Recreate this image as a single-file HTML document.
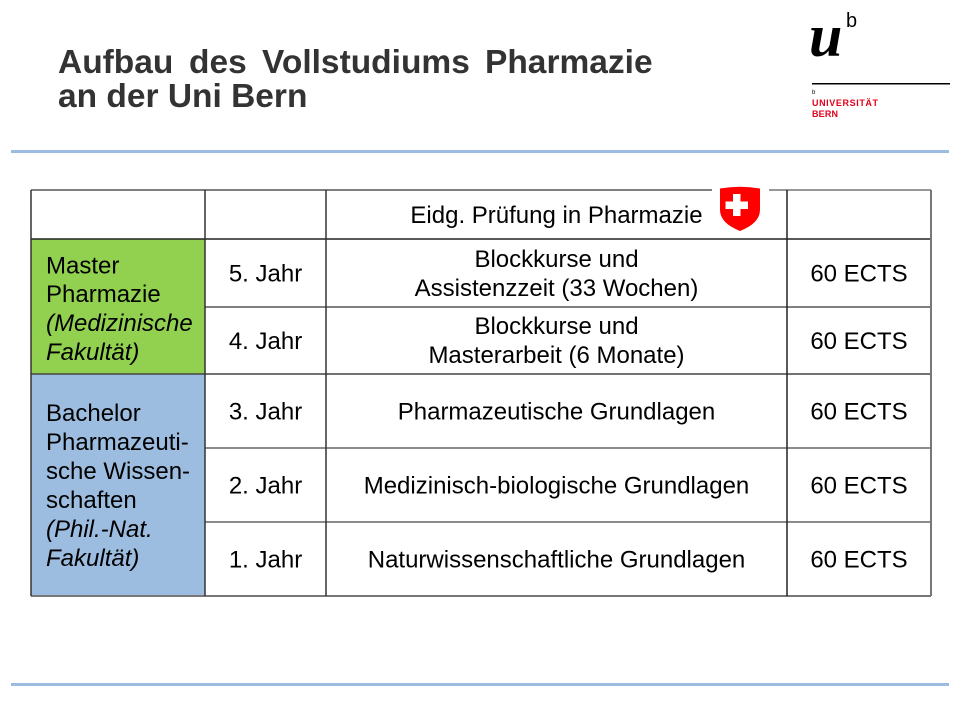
<!DOCTYPE html>
<html>
<head>
<meta charset="utf-8">
<style>
  html, body { margin: 0; padding: 0; background: #ffffff; }
  svg { display: block; }
</style>
</head>
<body>
<svg width="960" height="720" viewBox="0 0 960 720" xmlns="http://www.w3.org/2000/svg" font-family="'Liberation Sans', Arial, sans-serif">
  <rect x="0" y="0" width="960" height="720" fill="#ffffff"/>

  <!-- Title -->
  <g font-size="33.5" font-weight="bold" fill="#333333">
    <text x="58" y="73">Aufbau</text>
    <text x="189" y="73">des</text>
    <text x="262" y="73">Vollstudiums</text>
    <text x="485" y="73">Pharmazie</text>
    <text x="58" y="107">an der Uni Bern</text>
  </g>

  <!-- Logo -->
  <text x="809" y="56" style="font-family:'Liberation Serif', serif; font-size:60px; font-weight:bold; font-style:italic;" fill="#000">u</text>
  <text x="846" y="27" style="font-family:'Liberation Sans', sans-serif; font-size:20px;" fill="#000">b</text>
  <rect x="812" y="83" width="138" height="1.5" fill="#000"/>
  <text x="812" y="94" font-size="6" fill="#000">b</text>
  <text x="812" y="106" font-size="9" font-weight="bold" fill="#e2001a" textLength="66" lengthAdjust="spacing">UNIVERSITÄT</text>
  <text x="812" y="117" font-size="9" font-weight="bold" fill="#e2001a" textLength="26" lengthAdjust="spacing">BERN</text>

  <!-- Blue separator lines -->
  <rect x="11" y="150" width="938" height="3" fill="#9cbcdf"/>
  <rect x="11" y="683" width="938" height="3" fill="#9cbcdf"/>

  <!-- Colored cells -->
  <rect x="31" y="239" width="174" height="135" fill="#92d050"/>
  <rect x="31" y="374" width="174" height="222" fill="#9cbde0"/>

  <!-- Table lines -->
  <g stroke-width="1.5">
    <line x1="31" y1="190" x2="712" y2="190" stroke="#555"/>
    <line x1="769" y1="190" x2="931" y2="190" stroke="#777"/>
    <line x1="31" y1="239" x2="931" y2="239" stroke="#222"/>
    <line x1="205" y1="307" x2="931" y2="307" stroke="#555"/>
    <line x1="31" y1="374" x2="931" y2="374" stroke="#444"/>
    <line x1="205" y1="448" x2="931" y2="448" stroke="#666"/>
    <line x1="205" y1="522" x2="931" y2="522" stroke="#666"/>
    <line x1="31" y1="596" x2="931" y2="596" stroke="#777" stroke-width="2"/>
    <line x1="31" y1="190" x2="31" y2="596" stroke="#333"/>
    <line x1="205" y1="190" x2="205" y2="596" stroke="#333"/>
    <line x1="326" y1="190" x2="326" y2="596" stroke="#333"/>
    <line x1="787" y1="190" x2="787" y2="596" stroke="#222"/>
    <line x1="931" y1="190" x2="931" y2="596" stroke="#777" stroke-width="2"/>
  </g>

  <!-- Swiss shield -->
  <path d="M720,188.5 Q740,185 760,188.5 L760,210 Q760,223 740,231 Q720,223 720,210 Z" fill="#ff0000"/>
  <rect x="733" y="194" width="7.5" height="22" fill="#ffffff"/>
  <rect x="725.5" y="201.5" width="22.5" height="7.5" fill="#ffffff"/>

  <!-- Header row -->
  <text x="556.5" y="223" font-size="24" text-anchor="middle" fill="#000">Eidg. Prüfung in Pharmazie</text>

  <!-- Master column -->
  <text x="46" y="273.5" font-size="24" fill="#000">Master</text>
  <text x="46" y="302" font-size="24" fill="#000">Pharmazie</text>
  <text x="46" y="331" font-size="24" font-style="italic" fill="#000">(Medizinische</text>
  <text x="46" y="360" font-size="24" font-style="italic" fill="#000">Fakultät)</text>

  <!-- Bachelor column -->
  <text x="46" y="421" font-size="24" fill="#000">Bachelor</text>
  <text x="46" y="450" font-size="24" fill="#000">Pharmazeuti-</text>
  <text x="46" y="479" font-size="24" fill="#000">sche Wissen-</text>
  <text x="46" y="508" font-size="24" fill="#000">schaften</text>
  <text x="46" y="537" font-size="24" font-style="italic" fill="#000">(Phil.-Nat.</text>
  <text x="46" y="566" font-size="24" font-style="italic" fill="#000">Fakultät)</text>

  <!-- Year column -->
  <g font-size="24" text-anchor="middle" fill="#000">
    <text x="265.5" y="281.5">5. Jahr</text>
    <text x="265.5" y="349">4. Jahr</text>
    <text x="265.5" y="419.5">3. Jahr</text>
    <text x="265.5" y="493.5">2. Jahr</text>
    <text x="265.5" y="567.5">1. Jahr</text>
  </g>

  <!-- Content column -->
  <g font-size="24" text-anchor="middle" fill="#000">
    <text x="556.5" y="267">Blockkurse und</text>
    <text x="556.5" y="296">Assistenzzeit (33 Wochen)</text>
    <text x="556.5" y="334">Blockkurse und</text>
    <text x="556.5" y="363">Masterarbeit (6 Monate)</text>
    <text x="556.5" y="419.5">Pharmazeutische Grundlagen</text>
    <text x="556.5" y="493.5">Medizinisch-biologische Grundlagen</text>
    <text x="556.5" y="567.5">Naturwissenschaftliche Grundlagen</text>
  </g>

  <!-- ECTS column -->
  <g font-size="24" text-anchor="middle" fill="#000">
    <text x="859" y="281.5">60 ECTS</text>
    <text x="859" y="349">60 ECTS</text>
    <text x="859" y="419.5">60 ECTS</text>
    <text x="859" y="493.5">60 ECTS</text>
    <text x="859" y="567.5">60 ECTS</text>
  </g>
</svg>
</body>
</html>
